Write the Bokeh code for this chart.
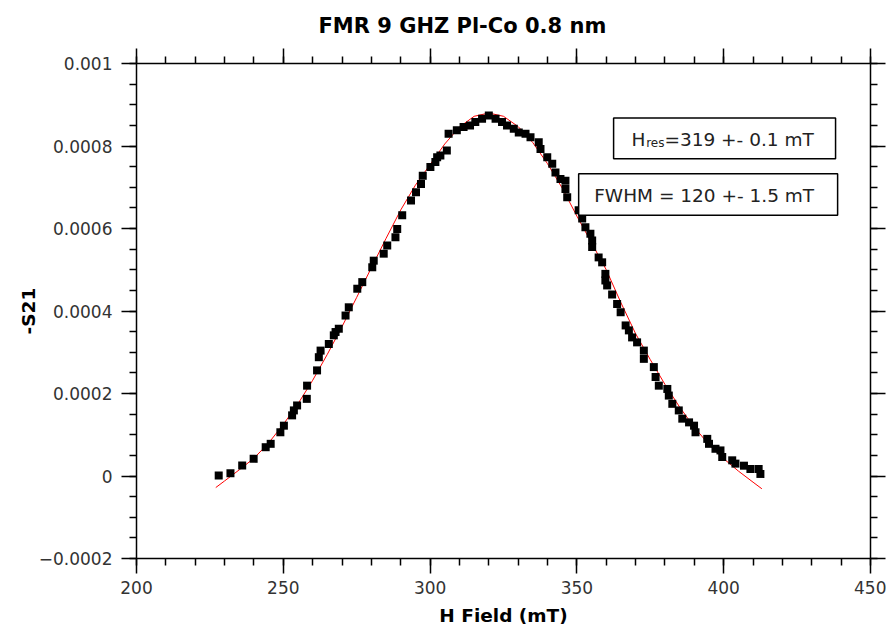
import numpy as np
from bokeh.plotting import figure
from bokeh.models import LinearAxis, FixedTicker, Range1d, BoxAnnotation, Label
from bokeh.embed import file_html
from bokeh.resources import INLINE

field_mT = [228.0, 232.0, 236.0, 239.9, 244.0, 245.7, 249.0, 250.2, 253.0, 253.6,
            254.7, 258.0, 258.1, 261.5, 262.1, 262.7, 265.5, 267.2, 267.8, 268.9,
            271.2, 272.3, 275.2, 276.9, 280.3, 280.8, 284.2, 285.4, 288.2, 288.8,
            290.5, 293.5, 295.2, 296.9, 297.5, 300.1, 301.8, 302.4, 303.5, 305.7,
            306.3, 309.1, 311.4, 313.6, 315.4, 317.7, 320.0, 322.3, 324.5, 326.2,
            328.5, 330.2, 332.5, 334.2, 337.0, 337.6, 339.9, 341.6, 342.7, 344.4,
            346.1, 346.1, 346.7, 350.6, 351.8, 352.9, 354.6, 355.2, 355.2, 357.4,
            358.6, 359.7, 359.7, 360.3, 362.0, 363.7, 364.9, 366.6, 367.7, 368.8,
            370.5, 372.8, 372.8, 376.2, 376.8, 377.9, 380.8, 381.3, 382.5, 384.7,
            385.9, 388.2, 389.9, 390.4, 394.4, 395.0, 397.2, 398.9, 399.5, 402.9,
            404.0, 406.9, 409.1, 411.9, 412.5]
s21 = [0.0000012, 0.0000068, 0.0000255, 0.0000417, 0.0000698, 0.000078, 0.000106, 0.000122, 0.000147, 0.000159,
       0.000171, 0.000187, 0.000219, 0.000256, 0.000288, 0.000304, 0.00032, 0.000341, 0.000349, 0.000357,
       0.000389, 0.000409, 0.000454, 0.00047, 0.000506, 0.000522, 0.000539, 0.000559, 0.000579, 0.000599,
       0.000632, 0.000668, 0.000688, 0.000708, 0.000728, 0.000749, 0.000761, 0.000773, 0.000777, 0.000789,
       0.00083, 0.000838, 0.000846, 0.00085, 0.000858, 0.000866, 0.000874, 0.000866, 0.000858, 0.00085,
       0.000842, 0.000833, 0.00083, 0.000821, 0.000809, 0.000793, 0.000773, 0.000757, 0.000736, 0.00072,
       0.000716, 0.000696, 0.000676, 0.000644, 0.000624, 0.000603, 0.000587, 0.000571, 0.000555, 0.00053,
       0.000518, 0.00049, 0.000474, 0.000462, 0.00044, 0.000417, 0.000397, 0.000365, 0.000353, 0.000336,
       0.000324, 0.000304, 0.000284, 0.000264, 0.00024, 0.000219, 0.000211, 0.000195, 0.000175, 0.000159,
       0.000139, 0.00013, 0.000122, 0.000106, 0.00009, 0.000078, 0.000066, 0.000062, 0.000046, 0.000038,
       0.00003, 0.000025, 0.000017, 0.000017, 0.000005]

# ---- fitted curve ----
fit_field_mT = [227, 230, 235, 240, 245, 250, 255, 260, 265, 270, 275, 280, 285, 290,
                295, 300, 305, 310, 315, 320, 325, 330, 335, 340, 345, 350, 355, 360,
                365, 370, 375, 380, 385, 390, 395, 400, 405, 410, 413]
fit_s21 = [-0.000028, -0.000012, 0.000015, 0.000043, 0.000080, 0.000125, 0.000175, 0.000232,
           0.000295, 0.000362, 0.000433, 0.000505, 0.000576, 0.000645, 0.000705, 0.000755,
           0.000805, 0.000846, 0.000872, 0.000880, 0.000872, 0.000847, 0.000808, 0.000757,
           0.000698, 0.000630, 0.000565, 0.000500, 0.000420, 0.000345, 0.000282, 0.000222,
           0.000167, 0.000118, 0.000076, 0.000042, 0.000012, -0.000015, -0.000031]

x_ticks = [200, 250, 300, 350, 400, 450]
x_tick_labels = ["200", "250", "300", "350", "400", "450"]
y_ticks = [-0.0002, 0, 0.0002, 0.0004, 0.0006, 0.0008, 0.001]
y_tick_labels = ["\u22120.0002", "0", "0.0002", "0.0004", "0.0006", "0.0008", "0.001"]

title_text = "FMR 9 GHZ Pl-Co 0.8 nm"
x_label = "H Field (mT)"
y_label = "-S21"
FONT = "DejaVu Sans"

p = figure(width=886, height=628, output_backend="svg", toolbar_location=None,
           x_range=Range1d(200, 450), y_range=Range1d(-0.0002, 0.001),
           min_border_left=136, min_border_right=16, min_border_top=63, min_border_bottom=70,
           background_fill_color="white", border_fill_color="white")
p.xgrid.visible = False
p.ygrid.visible = False
p.outline_line_color = None

x_minor = [float(v) for v in np.arange(200, 451, 10)]
y_minor = [float(v) for v in np.round(np.arange(-0.0002, 0.00101, 0.00005), 6)]
xt = FixedTicker(ticks=x_ticks, minor_ticks=x_minor)
yt = FixedTicker(ticks=y_ticks, minor_ticks=y_minor)

def style_axis(ax, show_labels, tick_out=15, minor_out=7):
    ax.axis_line_color = "black"
    ax.axis_line_width = 1.5
    ax.major_tick_line_color = "black"
    ax.major_tick_line_width = 1.5
    ax.minor_tick_line_color = "black"
    ax.minor_tick_line_width = 1.5
    ax.major_tick_in = 0
    ax.major_tick_out = tick_out
    ax.minor_tick_in = 0
    ax.minor_tick_out = minor_out
    if show_labels:
        ax.major_label_text_font = FONT
        ax.major_label_text_font_size = "17px"
        ax.major_label_text_color = "#333333"
        ax.axis_label_text_font = FONT
        ax.axis_label_text_font_size = "18.5px"
        ax.axis_label_text_font_style = "bold"
        ax.axis_label_text_color = "black"
    else:
        ax.major_label_text_font_size = "0px"
        ax.major_label_standoff = 0

xa = p.xaxis[0]
xa.ticker = xt
xa.major_label_overrides = {t: l for t, l in zip(x_ticks, x_tick_labels)}
xa.axis_label = x_label
style_axis(xa, True)
xa.major_label_standoff = 7
xa.axis_label_standoff = 8

ya = p.yaxis[0]
ya.ticker = yt
ya.major_label_overrides = {t: l for t, l in zip(y_ticks, y_tick_labels)}
ya.axis_label = y_label
style_axis(ya, True)
ya.major_label_standoff = 9
ya.axis_label_standoff = -3

top = LinearAxis(ticker=xt, major_label_overrides={t: "" for t in x_ticks})
style_axis(top, False)
p.add_layout(top, "above")
right = LinearAxis(ticker=yt, major_label_overrides={t: "" for t in y_ticks})
style_axis(right, False)
p.add_layout(right, "right")

p.title.text = title_text
p.title.text_font = FONT
p.title.text_font_size = "21px"
p.title.text_font_style = "bold"
p.title.text_color = "black"
p.title.align = "left"
p.title.offset = 182
p.title.standoff = 21

p.line(fit_field_mT, fit_s21, line_color="red", line_width=1)
p.scatter(field_mT, s21, marker="square", size=8, fill_color="black", line_color=None)

box1 = BoxAnnotation(left=362.5, right=438.1, top=0.000868, bottom=0.000769,
                     fill_color="white", fill_alpha=1.0, line_color="black",
                     line_alpha=1.0, line_width=1.5)
box2 = BoxAnnotation(left=350.6, right=438.8, top=0.000733, bottom=0.000632,
                     fill_color="white", fill_alpha=1.0, line_color="black",
                     line_alpha=1.0, line_width=1.5)
p.add_layout(box1)
p.add_layout(box2)

def lab(x, y, text, size):
    return Label(x=x, y=y, text=text, text_font=FONT, text_font_size=size,
                 text_color="#222222", text_baseline="alphabetic", text_align="left")

p.add_layout(lab(368.6, 0.000816, "H", "18.5px"))
p.add_layout(lab(373.6, 0.000807, "res", "12px"))
p.add_layout(lab(379.8, 0.000816, "=319 +- 0.1 mT", "18.5px"))
p.add_layout(lab(355.9, 0.000679, "FWHM = 120 +- 1.5 mT", "18.5px"))

open("out.html", "w").write(file_html(p, INLINE))
